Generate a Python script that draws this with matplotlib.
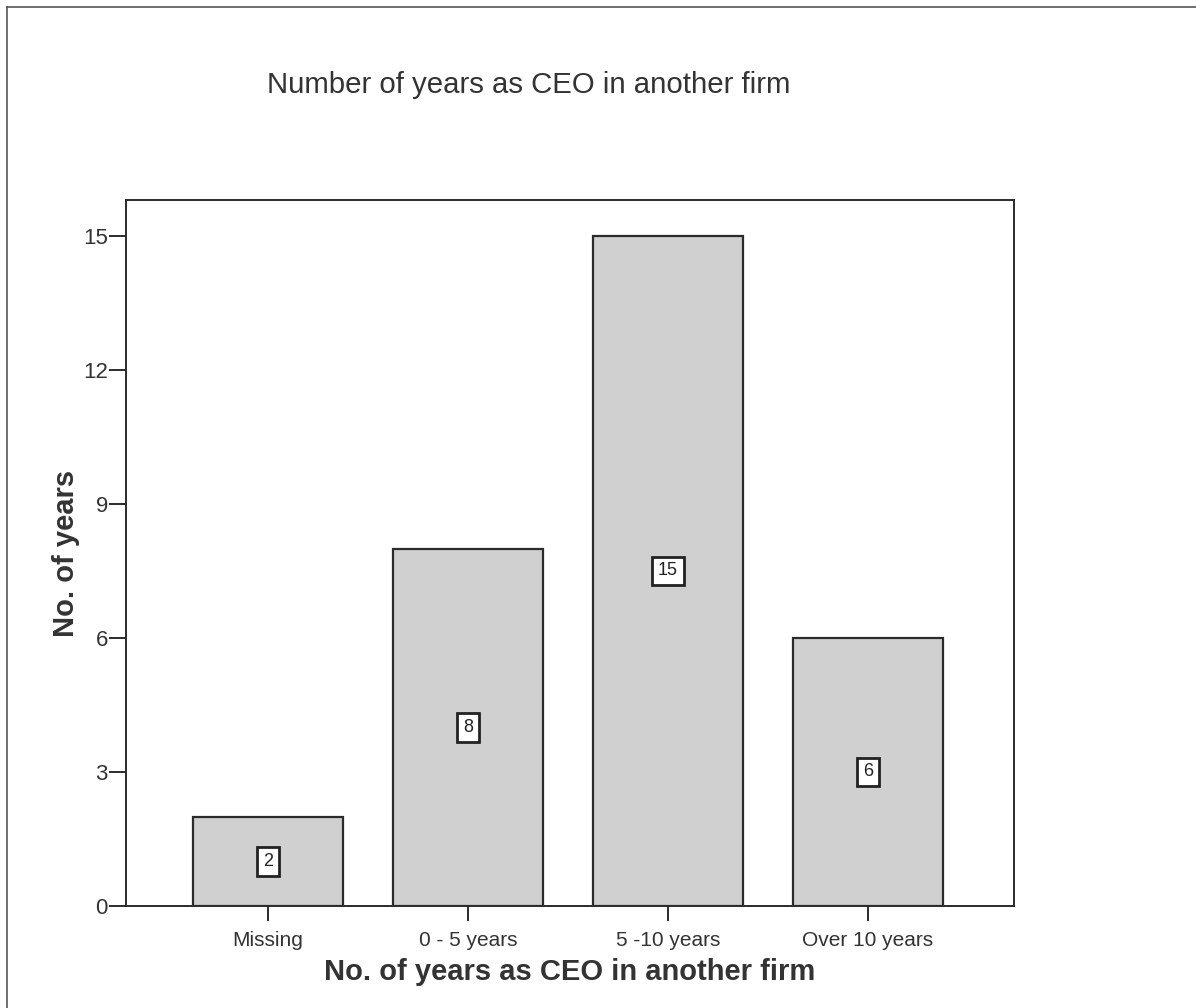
import matplotlib.pyplot as plt
from matplotlib.lines import Line2D

plt.rcParams['font.family'] = ['Liberation Sans', 'DejaVu Sans']

categories = ['Missing', '0 - 5 years', '5 -10 years', 'Over 10 years']
counts = [2, 8, 15, 6]
yticks = [0, 3, 6, 9, 12, 15]

fig = plt.figure(figsize=(11.96, 10.08), dpi=100)
ax = fig.add_axes([126 / 1196, 1 - 906 / 1008, 888 / 1196, 706 / 1008])

x = list(range(len(categories)))
ax.bar(x, counts, width=0.75, color='#d0d0d0', edgecolor='#2b2b2b', linewidth=1.6)

# value boxes sit half way up each bar
for xi, v in zip(x, counts):
    ax.text(xi, v / 2, str(v), ha='center', va='center', fontsize=13, color='#222222',
            bbox=dict(boxstyle='square,pad=0.32', facecolor='white',
                      edgecolor='#222222', linewidth=2))

ax.set_xlim(-0.71, 3.73)
ax.set_ylim(0, 15.8)
ax.set_xticks(x)
ax.set_xticklabels(categories, fontsize=15, color='#333333')
ax.set_yticks(yticks)
ax.set_yticklabels([str(t) for t in yticks], fontsize=16, color='#333333')
ax.tick_params(axis='x', length=11, width=1.4, color='#2b2b2b', pad=7)
ax.tick_params(axis='y', length=12, width=1.4, color='#2b2b2b', pad=1)
for s in ax.spines.values():
    s.set_linewidth(1.4)
    s.set_color('#2b2b2b')

ax.set_xlabel('No. of years as CEO in another firm', fontsize=21, fontweight='bold',
              color='#333333', labelpad=6)
ax.set_ylabel('No. of years', fontsize=21, fontweight='bold', color='#333333', labelpad=2)

fig.text(529 / 1196, 1 - 85 / 1008, 'Number of years as CEO in another firm',
         ha='center', va='center', fontsize=21.2, color='#333333')

# page frame
fig.add_artist(Line2D([7 / 1196, 1], [1 - 7 / 1008, 1 - 7 / 1008], color='#555555', lw=1.2))
fig.add_artist(Line2D([7 / 1196, 7 / 1196], [0, 1 - 7 / 1008], color='#555555', lw=1.2))

fig.savefig('out.png', dpi=100)
